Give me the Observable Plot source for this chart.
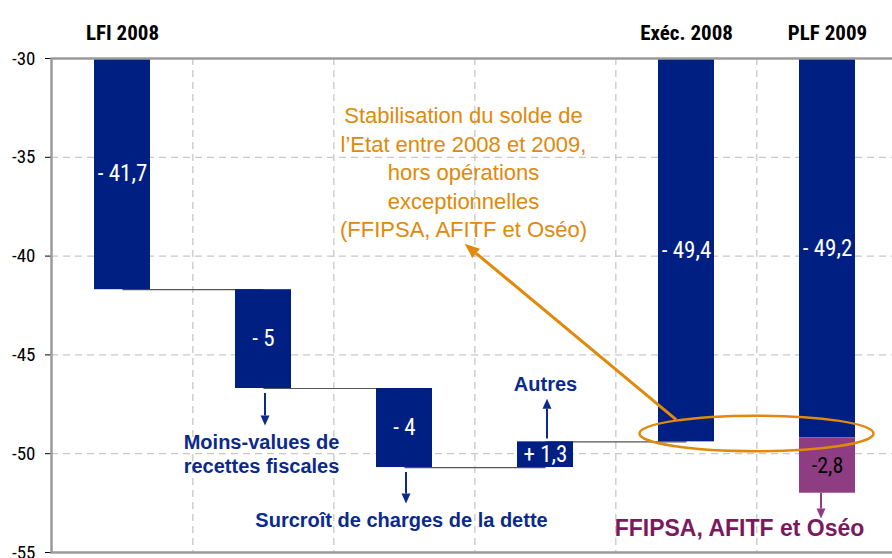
<!DOCTYPE html>
<html><head><meta charset="utf-8">
<script src="https://cdn.jsdelivr.net/npm/d3@7"></script>
<script src="https://cdn.jsdelivr.net/npm/@observablehq/plot@0.6"></script>
<style>
body{margin:0;background:#fff;overflow:hidden}
#chart svg{display:block}
</style></head><body><div id="chart"></div><script>
// ---- data ----
const categories = ["LFI 2008", "Moins-values", "Surcroît", "Autres", "Exéc. 2008", "PLF 2009"];
const headerLabels = ["LFI 2008", "", "", "", "Exéc. 2008", "PLF 2009"];
const steps = [-41.7, -5, -4, 1.3];           // waterfall steps
const stepLabels = ["- 41,7", "- 5", "- 4", "+ 1,3"];
const totals = [-49.4, -49.2];                 // Exéc. 2008, PLF 2009
const totalLabels = ["- 49,4", "- 49,2"];
const exceptional = -2.8;                      // FFIPSA, AFITF et Oséo
const exceptionalLabel = "-2,8";
const yTicks = [-30, -35, -40, -45, -50, -55];
const gridValues = [-35, -40, -45, -50];

const NARROW = "'Liberation Sans Narrow','Arial Narrow','Roboto Condensed','DejaVu Sans Condensed',sans-serif";
const SANS = "'Liberation Sans',Arial,Helvetica,sans-serif";
const navy = "#001f82", purpleBar = "#8f3d82", blueText = "#0b2a8c", purpleText = "#7a1a5e", orange = "#e0890a";

// build bars
const bars = [];
let level = 0;
steps.forEach((s, i) => {
  const start = i === 0 ? 0 : level;
  level = level + s;
  bars.push({cat: categories[i], y1: start, y2: +level.toFixed(1), label: stepLabels[i]});
});
totals.forEach((t, i) => bars.push({cat: categories[4 + i], y1: 0, y2: t, label: totalLabels[i]}));
const extra = {cat: "PLF 2009", y1: totals[1], y2: +(totals[1] + exceptional).toFixed(1), label: exceptionalLabel};
const links = bars.slice(0, 4).map((b, i) => ({a: b.cat, b: categories[i + 1], v: b.y2}));
const mid = b => (Math.max(Math.min(b.y1, -30), -55) + b.y2) / 2;
const headers = categories.map((c, i) => ({cat: c, label: headerLabels[i]}));

const W = 892, H = 558, mL = 51, mR = -7;
const stepPx = (W - mR - mL) / categories.length;

function drawArrow(g, x1, y1, x2, y2, color, width, hl, hw) {
  const ang = Math.atan2(y2 - y1, x2 - x1);
  const bx = x2 - hl * Math.cos(ang), by = y2 - hl * Math.sin(ang);
  g.append("line").attr("x1", x1).attr("y1", y1).attr("x2", bx).attr("y2", by)
    .attr("stroke", color).attr("stroke-width", width);
  const px = -Math.sin(ang), py = Math.cos(ang);
  g.append("path")
    .attr("d", `M${x2},${y2}L${bx + px * hw},${by + py * hw}L${bx - px * hw},${by - py * hw}Z`)
    .attr("fill", color);
}

// vertical note arrows (category, from, to)
const noteArrows = [["Moins-values", -46.95, -48.6], ["Surcroît", -50.95, -52.55], ["Autres", -49.25, -47.25]];
const extraArrow = ["PLF 2009", -52.0, -53.3];

function arrowsMark(data, color, dx) {
  return (index, scales) => {
    const x = scales.x, y = scales.y;
    const g = d3.create("svg:g");
    data.forEach(([c, a, b]) => {
      const px = x(c) + x.bandwidth() / 2 + dx;
      drawArrow(g, px, y(a), px, y(b), color, 2, 10, 4.5);
    });
    return g.node();
  };
}

function annotations(index, scales) {
  const x = scales.x, y = scales.y;
  const cx = c => x(c) + x.bandwidth() / 2;
  const st = x.step();
  const g = d3.create("svg:g");
  const ex = (cx("Exéc. 2008") + cx("PLF 2009")) / 2;
  g.append("ellipse")
    .attr("cx", ex).attr("cy", y(-49.0))
    .attr("rx", st * 0.83).attr("ry", y(-49.9) - y(-49.0))
    .attr("fill", "none").attr("stroke", orange).attr("stroke-width", 2.5);
  drawArrow(g, cx("Exéc. 2008") - 0.07 * st, y(-48.3), cx("Autres") - 0.57 * st, y(-39.4), orange, 3, 15, 6);
  return g.node();
}

const chart = Plot.plot({
  width: W, height: H,
  marginLeft: mL, marginRight: mR, marginTop: 58, marginBottom: 6,
  style: {fontSize: "19px", fontFamily: NARROW, color: "#000", background: "#fff"},
  x: {domain: categories, paddingInner: 0.6, paddingOuter: 0.3, axis: null},
  y: {domain: [-55, -30], clamp: true, ticks: yTicks, tickFormat: d => String(d), tickSize: 6, tickPadding: 10, label: null},
  marks: [
    Plot.ruleY(gridValues, {stroke: "#c8c8c8", strokeWidth: 1.3, strokeDasharray: "7,5"}),
    Plot.ruleX(categories.slice(1), {dx: -stepPx / 2, stroke: "#c8c8c8", strokeWidth: 1.3, strokeDasharray: "7,5"}),
    Plot.link(links, {x1: "a", x2: "b", y1: "v", y2: "v", stroke: "#555", strokeWidth: 1.2}),
    Plot.barY(bars, {x: "cat", y1: "y1", y2: "y2", fill: navy}),
    Plot.barY([extra], {x: "cat", y1: "y1", y2: "y2", fill: purpleBar}),
    Plot.text(bars, {x: "cat", y: mid, text: "label", fill: "white", fontSize: 23, fontFamily: NARROW}),
    Plot.text([extra], {x: "cat", y: mid, text: "label", fill: "black", fontSize: 22, fontFamily: NARROW}),
    Plot.text(headers, {x: "cat", frameAnchor: "top", dy: -33, text: "label", fontWeight: "bold", fontSize: 21, fontFamily: NARROW}),
    Plot.text(["Moins-values de\nrecettes fiscales"], {x: () => "Moins-values", y: () => -50.0, dx: -2, text: d => d, fill: blueText, fontWeight: "bold", fontSize: 20, lineHeight: 1.2, fontFamily: SANS}),
    Plot.text(["Surcroît de charges de la dette"], {x: () => "Surcroît", y: () => -53.4, dx: -3, text: d => d, fill: blueText, fontWeight: "bold", fontSize: 20, fontFamily: SANS}),
    Plot.text(["Autres"], {x: () => "Autres", y: () => -46.5, text: d => d, fill: blueText, fontWeight: "bold", fontSize: 20, fontFamily: SANS}),
    Plot.text(["FFIPSA, AFITF et Oséo"], {x: () => "PLF 2009", y: () => -53.8, dx: -88, text: d => d, fill: purpleText, fontWeight: "bold", fontSize: 23, fontFamily: SANS}),
    Plot.text(["Stabilisation du solde de\nl’Etat entre 2008 et 2009,\nhors opérations\nexceptionnelles\n(FFIPSA, AFITF et Oséo)"], {x: () => "Autres", y: () => -35.7, dx: -82, text: d => d, fill: orange, fontSize: 22, lineHeight: 1.3, fontFamily: SANS}),
    arrowsMark(noteArrows, blueText, 2),
    arrowsMark([extraArrow], purpleBar, -6),
    annotations,
    Plot.frame({stroke: "#9a9a9a", strokeWidth: 2.5})
  ]
});
document.getElementById("chart").appendChild(chart);
</script></body></html>
